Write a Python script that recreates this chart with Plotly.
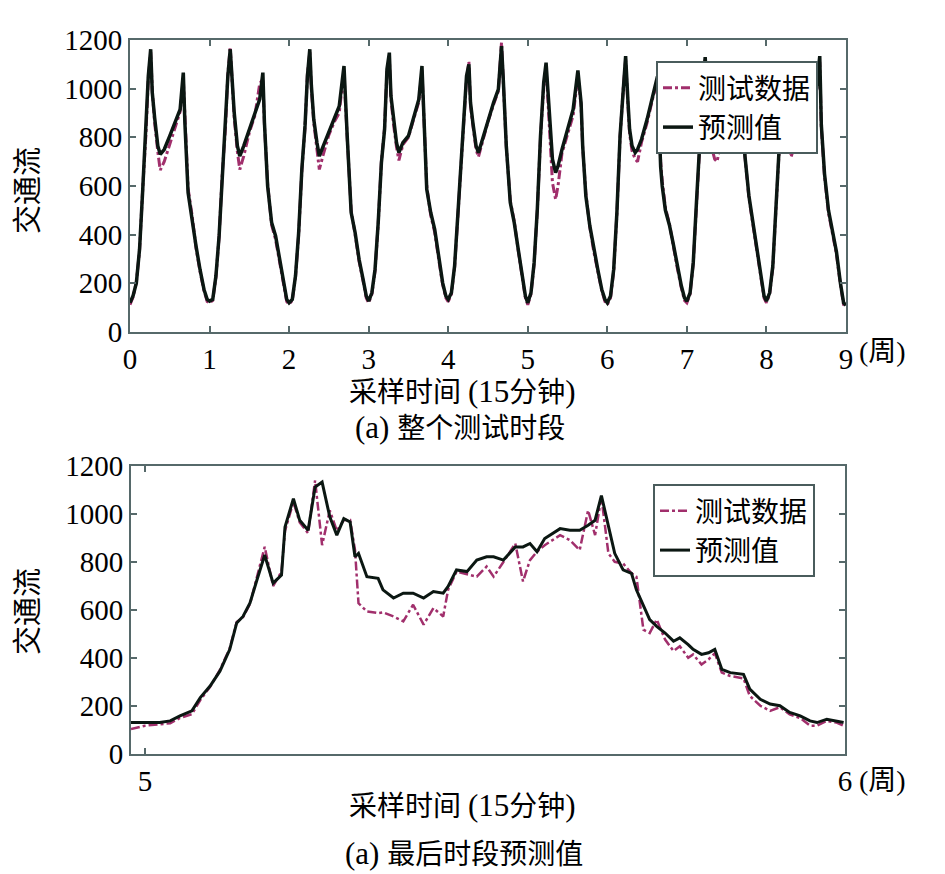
import plotly.graph_objects as go

# ---- 上图: 整个测试时段 (每个刻度单位内读取的采样位置) ----
day_t = [0, .04, .08, .12, .16, .2, .23, .26, .28, .31, .35, .38,
         .43, .5, .57, .63, .67, .69, .73, .78, .83, .88, .93, .97]

pred_d0 = [120, 150, 202, 340, 585, 820, 1052, 1162, 984, 880, 765, 730, 750, 806, 860, 915, 1066, 860, 573, 450, 353, 257, 175, 134]
pred_d1 = [127, 134, 230, 395, 640, 833, 1052, 1162, 1052, 901, 765, 723, 765, 833, 901, 956, 1066, 860, 600, 450, 395, 298, 202, 134]
pred_d2 = [120, 134, 230, 408, 668, 847, 1052, 1162, 1011, 874, 778, 723, 765, 820, 874, 928, 1039, 1093, 806, 491, 408, 298, 216, 148]
pred_d3 = [127, 161, 257, 449, 695, 833, 1080, 1148, 970, 874, 778, 737, 778, 806, 888, 956, 1093, 943, 586, 491, 422, 312, 202, 148]
pred_d4 = [134, 161, 271, 477, 695, 874, 1052, 1100, 943, 860, 765, 737, 792, 874, 943, 997, 1175, 1052, 765, 532, 449, 340, 230, 148]
pred_d5 = [120, 161, 285, 504, 806, 1025, 1107, 943, 820, 710, 655, 682, 750, 833, 915, 1075, 943, 765, 559, 436, 340, 257, 175, 134]
pred_d6 = [120, 148, 257, 490, 806, 1011, 1134, 943, 833, 765, 737, 750, 792, 874, 970, 1050, 680, 600, 500, 440, 360, 270, 190, 140]
pred_d7 = [127, 161, 285, 532, 792, 1000, 1130, 960, 830, 778, 750, 765, 806, 860, 920, 980, 1080, 950, 723, 559, 449, 340, 230, 148]
pred_d8 = [127, 161, 271, 504, 765, 1000, 1100, 950, 778, 750, 778, 806, 860, 900, 940, 1000, 1134, 850, 650, 500, 420, 330, 200, 120]

test_d0 = [112, 145, 205, 335, 590, 810, 1040, 1150, 990, 860, 740, 665, 700, 770, 840, 905, 1040, 870, 590, 480, 345, 250, 170, 125]
test_d1 = [120, 130, 225, 390, 650, 840, 1060, 1170, 1030, 880, 740, 668, 723, 820, 890, 1020, 1040, 850, 610, 440, 380, 290, 195, 125]
test_d2 = [115, 130, 225, 400, 660, 840, 1060, 1150, 1000, 860, 750, 668, 730, 810, 865, 900, 1020, 1060, 800, 500, 400, 290, 210, 140]
test_d3 = [120, 155, 250, 445, 700, 840, 1070, 1130, 960, 860, 760, 705, 770, 800, 880, 945, 1075, 930, 600, 480, 410, 300, 195, 140]
test_d4 = [125, 155, 265, 470, 690, 880, 1040, 1110, 930, 850, 750, 720, 785, 865, 935, 990, 1190, 1060, 760, 540, 455, 335, 225, 140]
test_d5 = [112, 155, 280, 500, 800, 1010, 1090, 920, 790, 614, 545, 600, 735, 810, 890, 1050, 930, 760, 570, 430, 330, 250, 170, 125]
test_d6 = [112, 140, 250, 485, 800, 1000, 1120, 930, 815, 745, 710, 700, 780, 860, 960, 1030, 700, 620, 510, 445, 350, 262, 182, 130]
test_d7 = [120, 155, 280, 525, 785, 990, 1120, 950, 800, 760, 710, 700, 790, 850, 910, 970, 1060, 940, 720, 550, 440, 330, 222, 140]
test_d8 = [120, 155, 265, 500, 760, 990, 1090, 940, 760, 720, 760, 790, 850, 890, 930, 990, 1110, 840, 640, 490, 410, 320, 195, 112]

end_pred = 110
end_test = 105

# ---- 下图: 最后时段 (5~6) ----
zoom_t = [-0.02, 0.0, 0.021, 0.036, 0.05, 0.067, 0.079, 0.093, 0.107, 0.121,
          0.131, 0.14, 0.15, 0.16, 0.171, 0.183, 0.195, 0.2, 0.212, 0.221,
          0.233, 0.243, 0.253, 0.264, 0.274, 0.284, 0.293, 0.3, 0.305, 0.317,
          0.333, 0.34, 0.355, 0.369, 0.383, 0.398, 0.412, 0.426, 0.433, 0.445,
          0.46, 0.474, 0.488, 0.498, 0.512, 0.529, 0.54, 0.55, 0.56, 0.571,
          0.593, 0.607, 0.621, 0.633, 0.643, 0.652, 0.662, 0.671, 0.683, 0.695,
          0.702, 0.712, 0.721, 0.731, 0.743, 0.755, 0.764, 0.776, 0.783, 0.795,
          0.805, 0.814, 0.824, 0.836, 0.855, 0.864, 0.879, 0.893, 0.907, 0.921,
          0.936, 0.95, 0.96, 0.974, 0.988, 0.998]
zoom_pred = [131, 131, 131, 138, 159, 180, 235, 283, 345, 435,
             546, 573, 629, 726, 829, 712, 746, 946, 1064, 974,
             932, 1112, 1133, 988, 912, 981, 967, 822, 836, 739,
             732, 684, 650, 670, 670, 650, 677, 670, 698, 767,
             760, 808, 822, 822, 808, 863, 863, 877, 843, 898,
             939, 932, 932, 953, 974, 1077, 946, 836, 767, 753,
             684, 615, 560, 532, 504, 470, 484, 456, 436, 415,
             422, 436, 353, 339, 332, 270, 228, 208, 201, 173,
             159, 138, 131, 145, 138, 131]
zoom_test = [104, 118, 124, 128, 150, 166, 225, 280, 350, 440,
             550, 570, 625, 740, 863, 700, 760, 930, 1050, 965,
             920, 1140, 870, 1015, 930, 975, 975, 850, 628, 594,
             587, 590, 573, 553, 622, 539, 608, 573, 684, 760,
             750, 739, 781, 739, 800, 877, 719, 808, 843, 870,
             912, 891, 850, 1015, 912, 1070, 836, 801, 794, 753,
             739, 518, 504, 560, 477, 429, 449, 401, 415, 373,
             394, 420, 339, 325, 315, 242, 201, 180, 195, 165,
             150, 118, 118, 138, 131, 118]

pred_days = [pred_d0, pred_d1, pred_d2, pred_d3, pred_d4, pred_d5, pred_d6, pred_d7, pred_d8]
test_days = [test_d0, test_d1, test_d2, test_d3, test_d4, test_d5, test_d6, test_d7, test_d8]

x_all, pred_all, test_all = [], [], []
for d, (p, q) in enumerate(zip(pred_days, test_days)):
    x_all += [d + t for t in day_t]
    pred_all += p
    test_all += q
x_all.append(9)
pred_all.append(end_pred)
test_all.append(end_test)

zoom_x = [5 + t for t in zoom_t]

# page body has an 8px margin, so the figure is 8px smaller and positions shifted
PAD = 8
W, H = 945 - PAD, 874 - PAD


def fx(px):
    return (px - PAD) / W


def fy(py):
    return 1 - (py - PAD) / H


FONT = "Liberation Serif, Noto Sans CJK SC"
AXC = "#56696a"
TEST_C = "#a12f6c"
PRED_C = "#0b1712"

fig = go.Figure()
fig.add_trace(go.Scatter(x=x_all, y=test_all, mode="lines", name="测试数据",
                         line=dict(color=TEST_C, width=3, dash="dashdot"),
                         xaxis="x", yaxis="y", legend="legend"))
fig.add_trace(go.Scatter(x=x_all, y=pred_all, mode="lines", name="预测值",
                         line=dict(color=PRED_C, width=3.5),
                         xaxis="x", yaxis="y", legend="legend"))
fig.add_trace(go.Scatter(x=zoom_x, y=zoom_test, mode="lines", name="测试数据",
                         line=dict(color=TEST_C, width=2.5, dash="dashdot"),
                         xaxis="x2", yaxis="y2", legend="legend2"))
fig.add_trace(go.Scatter(x=zoom_x, y=zoom_pred, mode="lines", name="预测值",
                         line=dict(color=PRED_C, width=3),
                         xaxis="x2", yaxis="y2", legend="legend2"))

ax = dict(showline=True, linecolor=AXC, linewidth=2, mirror="ticks",
          ticks="inside", ticklen=6, tickcolor=AXC, tickwidth=1.5,
          showgrid=False, zeroline=False, automargin=False,
          tickfont=dict(family=FONT, size=29, color="black"))

leg = dict(xanchor="left", yanchor="top", bgcolor="white",
           bordercolor="#4a5c5c", borderwidth=2,
           font=dict(family=FONT, size=28), tracegroupgap=0)

fig.update_layout(
    width=W, height=H,
    margin=dict(l=0, r=0, t=0, b=0, autoexpand=False),
    paper_bgcolor="white", plot_bgcolor="white",
    font=dict(family=FONT, color="black"),
    xaxis=dict(ax, domain=[fx(130), fx(846)], range=[0, 9], tickvals=list(range(10)), anchor="y"),
    yaxis=dict(ax, domain=[fy(332), fy(40)], range=[0, 1200], tickvals=list(range(0, 1201, 200)), anchor="x"),
    xaxis2=dict(ax, domain=[fx(131), fx(845)], range=[4.98, 6.0], tickvals=[5, 6], anchor="y2"),
    yaxis2=dict(ax, domain=[fy(754), fy(466)], range=[0, 1200], tickvals=list(range(0, 1201, 200)), anchor="x2"),
    legend=dict(leg, x=fx(656), y=fy(61)),
    legend2=dict(leg, x=fx(653), y=fy(484)),
    showlegend=True,
)

big = "<span style='font-size:31px'>"
notes = [
    ("交通流", 28, 191, -90, 29),
    ("交通流", 28, 612, -90, 29),
    ("(周)", 882, 352, 0, 28),
    ("(周)", 882, 780, 0, 28),
    ("采样时间 " + big + "(15</span>分钟" + big + ")</span>", 462, 391, 0, 28),
    (big + "(a) </span>整个测试时段", 460, 427, 0, 28),
    ("采样时间 " + big + "(15</span>分钟" + big + ")</span>", 462, 805, 0, 28),
    (big + "(a) </span>最后时段预测值", 464, 853, 0, 28),
]
for text, px, py, ang, size in notes:
    fig.add_annotation(text=text, x=fx(px), y=fy(py), xref="paper", yref="paper",
                       showarrow=False, textangle=ang, xanchor="center", yanchor="middle",
                       font=dict(family=FONT, size=size, color="black"))

fig.write_html("out.html")
